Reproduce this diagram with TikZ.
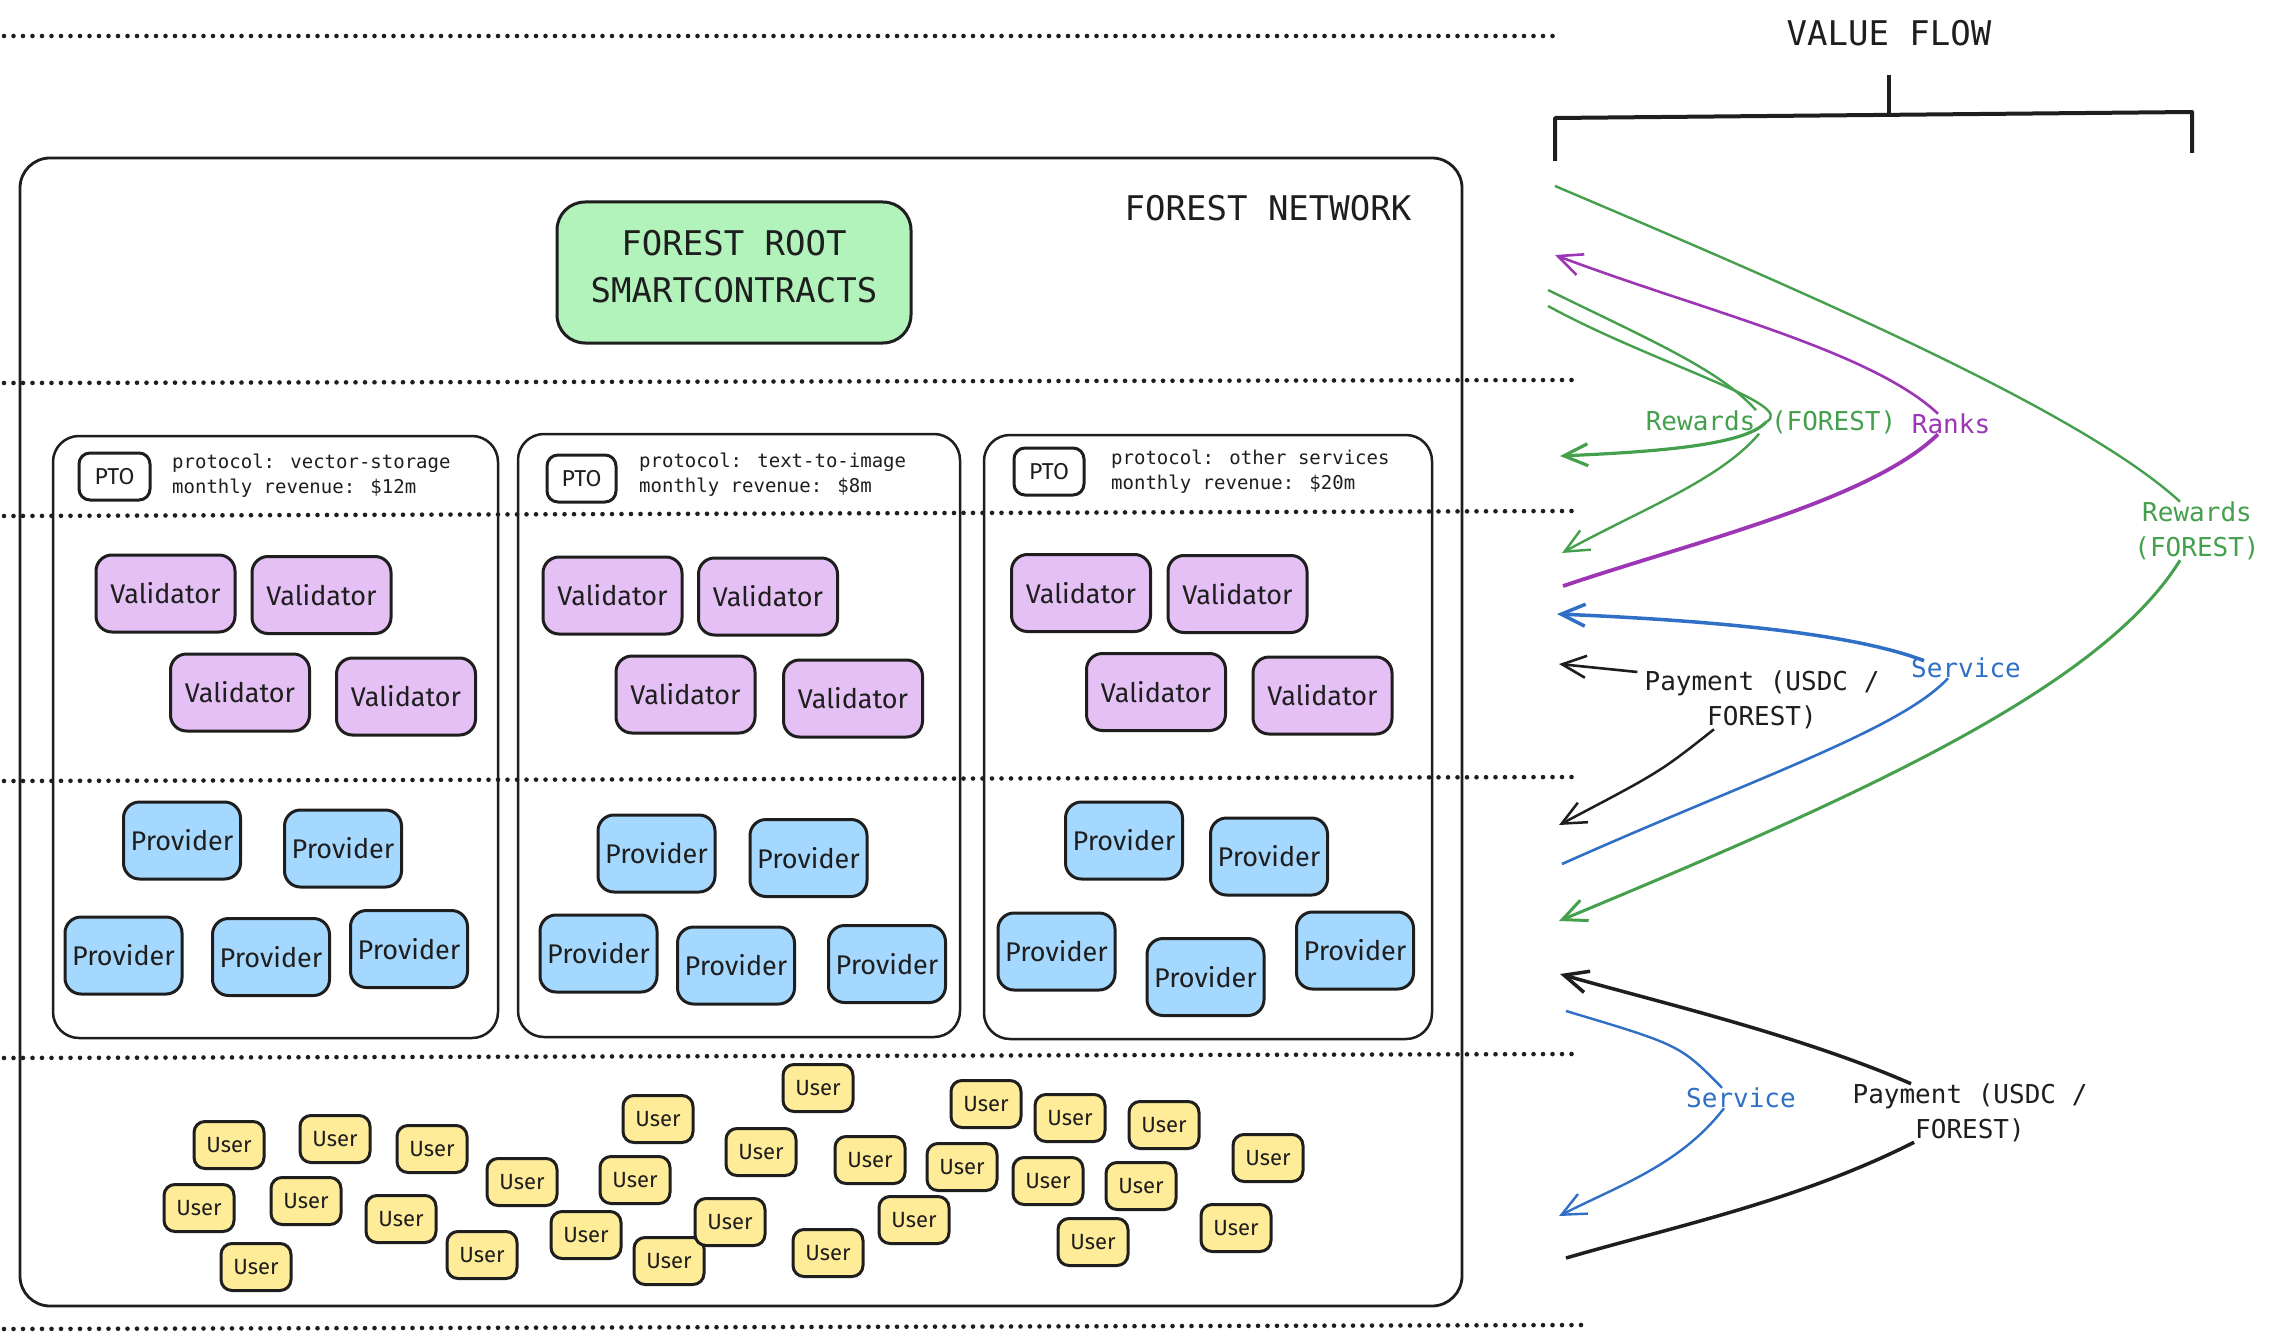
\documentclass[tikz,border=0pt]{standalone}
\usepackage{fontspec}
\setmainfont{Fira Sans}
\newfontfamily\handf{Fira Sans}
\newfontfamily\monof{DejaVu Sans Mono}
\usetikzlibrary{arrows.meta}
\definecolor{ink}{HTML}{1E1E1E}
\definecolor{valfill}{HTML}{E5C0F5}
\definecolor{provfill}{HTML}{A5D8FF}
\definecolor{userfill}{HTML}{FFEC99}
\definecolor{rootfill}{HTML}{B2F2BB}
\definecolor{gflow}{HTML}{45A04E}
\definecolor{pflow}{HTML}{9C36B5}
\definecolor{bflow}{HTML}{2F6FC6}
\begin{document}
\begin{tikzpicture}[x=1pt,y=-1pt,
  dotline/.style={draw=ink,line width=4.6pt,line cap=round,dash pattern=on 0pt off 9.5pt},
  outerbox/.style={draw=ink,line width=2.8pt,rounded corners=30pt,inner sep=0pt},
  ptobox/.style={draw=ink,line width=2.5pt,rounded corners=26pt,inner sep=0pt},
  cardbase/.style={draw=ink,line width=3pt,inner sep=0pt,align=center,text=ink},
  valbox/.style={cardbase,fill=valfill,rounded corners=16pt,minimum width=139pt,minimum height=77pt,font=\handf\fontsize{27}{32}\selectfont},
  provbox/.style={cardbase,fill=provfill,rounded corners=16pt,minimum width=117pt,minimum height=77pt,font=\handf\fontsize{27}{32}\selectfont},
  userbox/.style={cardbase,fill=userfill,rounded corners=11pt,minimum width=70pt,minimum height=47pt,font=\handf\fontsize{22}{26}\selectfont},
  tagbox/.style={cardbase,fill=white,rounded corners=11pt,minimum width=70pt,minimum height=47pt,font=\handf\fontsize{23}{26}\selectfont},
  rootbox/.style={cardbase,fill=rootfill,rounded corners=28pt,minimum width=354pt,minimum height=141pt},
  head/.style={font=\monof\fontsize{34}{47}\selectfont,text=ink,align=center,inner sep=0pt},
  info/.style={font=\monof\fontsize{19}{25}\selectfont,text=ink,align=left,anchor=west,inner sep=0pt},
  flowlbl/.style={font=\monof\fontsize{26}{35}\selectfont,align=center,inner sep=0pt},
  flowthin/.style={line width=2.4pt},
  flowthick/.style={line width=3.5pt},
  barb/.style={-{Straight Barb[length=24pt,width=22pt]}},
]
\useasboundingbox (0,0) rectangle (2272,1340);
\fill[white] (0,0) rectangle (2272,1340);

% dotted separators
\draw[dotline] (4,36) -- (1560,36);
\draw[dotline] (4,383) -- (1575,380);
\draw[dotline] (4,516) -- (1575,511);
\draw[dotline] (4,781) -- (1580,777);
\draw[dotline] (4,1058) -- (1580,1054);
\draw[dotline] (4,1329) -- (1590,1325);

% network frame
\node[outerbox,minimum width=1442pt,minimum height=1148pt] (net) at (741,732) {};
\node[head] (netlbl) at (1268,208) {FOREST NETWORK};

% root
\node[rootbox] (root) at (734,272.5) {};
\node[head] (roottxt) at (734,267) {FOREST ROOT\\SMARTCONTRACTS};

% PTO containers
\node[ptobox,minimum width=445pt,minimum height=602pt] (c1) at (275.5,737) {};
\node[ptobox,minimum width=442pt,minimum height=603pt] (c2) at (739,735.5) {};
\node[ptobox,minimum width=448pt,minimum height=604pt] (c3) at (1208,737) {};

\node[tagbox,minimum width=71pt] (t1) at (114.5,476.5) {PTO};
\node[tagbox,minimum width=69pt] (t2) at (581.5,478.5) {PTO};
\node[tagbox] (t3) at (1049,471.5) {PTO};
\node[info] (i1) at (172,475.5) {protocol: vector-storage\\monthly revenue: \$12m};
\node[info] (i2) at (639,475) {protocol: text-to-image\\monthly revenue: \$8m};
\node[info] (i3) at (1111,471.5) {protocol: other services\\monthly revenue: \$20m};

% validators
\node[valbox] (v11) at (165.5,593.5) {Validator};
\node[valbox] (v12) at (321.5,595) {Validator};
\node[valbox] (v13) at (240,692.5) {Validator};
\node[valbox] (v14) at (406,696.5) {Validator};
\node[valbox] (v21) at (612.5,595.5) {Validator};
\node[valbox] (v22) at (768,596.5) {Validator};
\node[valbox] (v23) at (685.5,694.5) {Validator};
\node[valbox] (v24) at (853,698.5) {Validator};
\node[valbox] (v31) at (1081,593) {Validator};
\node[valbox] (v32) at (1237.5,594) {Validator};
\node[valbox] (v33) at (1156,692) {Validator};
\node[valbox] (v34) at (1322.5,695.5) {Validator};

% providers
\node[provbox] (p11) at (182,840.5) {Provider};
\node[provbox] (p12) at (343,848.5) {Provider};
\node[provbox] (p13) at (123.5,955.5) {Provider};
\node[provbox] (p14) at (271,957) {Provider};
\node[provbox] (p15) at (409,949) {Provider};
\node[provbox] (p21) at (656.5,853.5) {Provider};
\node[provbox] (p22) at (808.5,858) {Provider};
\node[provbox] (p23) at (598.5,953.5) {Provider};
\node[provbox] (p24) at (736,965.5) {Provider};
\node[provbox] (p25) at (887,964) {Provider};
\node[provbox] (p31) at (1124,840.5) {Provider};
\node[provbox] (p32) at (1269,856.5) {Provider};
\node[provbox] (p33) at (1056.5,951.5) {Provider};
\node[provbox] (p34) at (1205.5,977) {Provider};
\node[provbox] (p35) at (1355,950.5) {Provider};

% users
\foreach \ux/\uy [count=\i] in {229/1145,335/1139,432/1149,522/1182,635/1180,658/1119,761/1152,818/1088,870/1160,962/1167,986/1104,1070/1118,1164/1125,1048/1181,1141/1186,199/1208,306/1201,401/1219,482/1255,586/1235,669/1261,730/1222,828/1253,914/1220,1093/1242,256/1267,1268/1158,1236/1228}
  \node[userbox] (u\i) at (\ux,\uy) {User};

% value flow header
\node[head] (vf) at (1889,33) {VALUE FLOW};
\coordinate (bl) at (1555,161);
\coordinate (blt) at (1555,118);
\coordinate (brt) at (2192,112);
\coordinate (br) at (2192,153);
\coordinate (bst) at (1889,75);
\coordinate (bsb) at (1889,115);
\draw[ink,line width=4pt,line join=round] (bl) -- (blt) -- (brt) -- (br);
\draw[ink,line width=4pt] (bst) -- (bsb);

% labels
\node[flowlbl,text=gflow] (rewR) at (2197,531) {Rewards\\(FOREST)};
\node[flowlbl,text=gflow] (rewM) at (1771,422) {Rewards (FOREST)};
\node[flowlbl,text=pflow] (ranks) at (1951,424) {Ranks};
\node[flowlbl,text=bflow] (servU) at (1966,668) {Service};
\node[flowlbl,text=ink] (payU) at (1762,700) {Payment (USDC /\\FOREST)};
\node[flowlbl,text=bflow] (servL) at (1741,1098) {Service};
\node[flowlbl,text=ink] (payL) at (1970,1113) {Payment (USDC /\\FOREST)};

% endpoints
\coordinate (gR1) at (1555,186);
\coordinate (gR2) at (1559,921);
\coordinate (gM1) at (1548,290);
\coordinate (gM2) at (1548,306);
\coordinate (gM3) at (1560,456);
\coordinate (gM4) at (1562,553);
\coordinate (pR1) at (1555,255);
\coordinate (pR2) at (1563,586);
\coordinate (bU1) at (1557,614);
\coordinate (bU2) at (1562,864);
\coordinate (kU1) at (1559,664);
\coordinate (kU2) at (1559,825);
\coordinate (kL1) at (1560,974);
\coordinate (kL2) at (1566,1258);
\coordinate (bL1) at (1566,1011);
\coordinate (bL2) at (1559,1216);

% green long (right)
\draw[gflow,flowthin] (gR1) .. controls (1800,290) and (2080,410) .. ([xshift=-17pt]rewR.north);
\draw[gflow,line width=3pt,barb] ([xshift=-17pt]rewR.south) .. controls (2100,690) and (1850,800) .. (gR2);

% green middle
\draw[gflow,flowthin] (gM1) .. controls (1650,340) and (1720,370) .. ([xshift=-15pt]rewM.north);
\draw[gflow,flowthin] (gM2) .. controls (1650,362) and (1800,405) .. ([xshift=-5pt]rewM.center);
\draw[gflow,line width=3.2pt,barb] ([xshift=-5pt]rewM.center) .. controls (1745,446) and (1650,452) .. (gM3);
\draw[gflow,flowthin,barb] ([xshift=-12pt]rewM.south) .. controls (1720,480) and (1640,510) .. (gM4);

% purple ranks
\draw[pflow,line width=2.6pt,barb] ([xshift=-13pt]ranks.north) .. controls (1870,350) and (1700,310) .. (pR1);
\draw[pflow,line width=3.8pt] ([xshift=-13pt]ranks.south) .. controls (1870,500) and (1700,540) .. (pR2);

% blue upper service
\draw[bflow,flowthick,barb] ([xshift=-42pt,yshift=-3pt]servU.north) .. controls (1850,632) and (1700,620) .. (bU1);
\draw[bflow,line width=2.6pt] ([xshift=-18pt]servU.south) .. controls (1900,730) and (1750,780) .. (bU2);

% black upper payment
\draw[ink,line width=2.6pt,barb] ([xshift=-7pt,yshift=28pt]payU.west) -- (kU1);
\draw[ink,line width=2.5pt,barb] ([xshift=-48pt]payU.south) .. controls (1660,772) .. (kU2);

% black lower payment
\draw[ink,flowthick,barb] ([xshift=-59pt]payL.north) .. controls (1800,1035) and (1650,1000) .. (kL1);
\draw[ink,flowthick] ([xshift=-56pt]payL.south) .. controls (1800,1200) and (1680,1225) .. (kL2);

% blue lower service
\draw[bflow,flowthin] ([xshift=-19pt]servL.north) .. controls (1680,1045) .. (bL1);
\draw[bflow,flowthin,barb] ([xshift=-17pt]servL.south) .. controls (1680,1165) and (1620,1185) .. (bL2);
\end{tikzpicture}
\end{document}
